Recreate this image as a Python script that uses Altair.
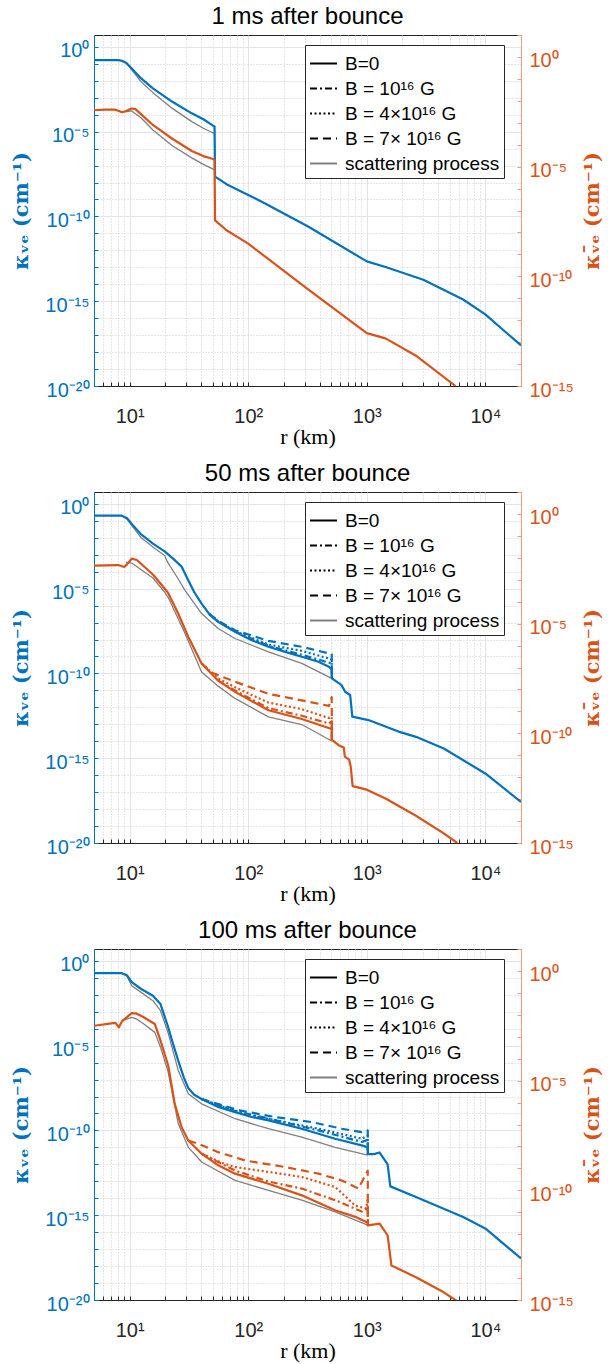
import altair as alt
import pandas as pd

BLUE = "#0072BD"
ORANGE = "#D95319"
GRAY = "#808080"
DARK = "#262626"
RIGHT_DOMAIN_COLOR = "#EE9E78"
MAJOR_GRID = "#E1E4EC"
MINOR_GRID = "#CDCDCD"
SANS = "Liberation Sans"

TITLES = ["1 ms after bounce", "50 ms after bounce", "100 ms after bounce"]
SERIES = ["B=0", "B = 10¹⁶ G", "B = 4×10¹⁶ G", "B = 7× 10¹⁶ G", "scattering process"]
SERIES_DASH = [[1, 0], [7, 3, 2, 3], [2, 2.5], [8, 5], [1, 0]]
SERIES_WIDTH = [2.2, 2.2, 2.2, 2.2, 1.3]
LEGEND_COLOR = ["#000000", "#000000", "#000000", "#000000", GRAY]
LEGEND_WIDTH = [2.0, 2.0, 2.0, 2.0, 1.3]

X_DOMAIN = [5, 20000]
Y_LEFT_DOMAIN = [1e-20, 5]
Y_RIGHT_DOMAIN = [1e-15, 10]

# ---------------- panel 1 : 1 ms (r in km, values as log10 kappa) ----------------
P1_NU_B0_R = [5, 8.0, 8.6, 9.4, 10.4, 12.5, 15.7, 22.9, 33.4, 41.8, 50.5, 52.0, 52.5, 65.6, 100, 140, 320, 1000, 1440, 3000, 6500, 10000, 14000, 20000]
P1_NU_B0_E = [-0.78, -0.78, -0.82, -0.95, -1.27, -1.86, -2.45, -3.24, -3.92, -4.27, -4.65, -4.7, -7.65, -8.1, -8.73, -9.25, -10.59, -12.65, -12.98, -13.73, -14.9, -15.78, -16.67, -17.6]
P1_NU_SC_R = [8.0, 8.6, 9.4, 10.4, 12.5, 15.7, 22.9, 33.4, 41.8, 50.5, 52.0]
P1_NU_SC_E = [-0.78, -0.82, -0.97, -1.35, -2.06, -2.7, -3.63, -4.41, -4.8, -5.08, -5.1]
P1_NUB_B0_R = [5, 6.2, 7.5, 8.0, 8.6, 9.2, 10.4, 11.2, 12.5, 15.7, 22.9, 33.4, 41.8, 50.5, 52.0, 52.5, 65.6, 100, 320, 1000, 1440, 2600, 5600]
P1_NUB_B0_E = [-2.43, -2.4, -2.4, -2.45, -2.52, -2.48, -2.35, -2.38, -2.62, -3.1, -3.73, -4.29, -4.52, -4.65, -4.7, -7.45, -7.9, -8.51, -10.6, -12.59, -12.83, -13.62, -15.0]
P1_NUB_SC_R = [9.2, 10.4, 12.5, 15.7, 22.9, 33.4, 41.8, 50.5, 52.0]
P1_NUB_SC_E = [-2.5, -2.46, -2.78, -3.33, -4.05, -4.6, -4.9, -5.11, -5.13]

# ---------------- panel 2 : 50 ms ----------------
P2_NU_B0_R = [5, 8.5, 9.5, 10.4, 12.5, 15.7, 19.7, 23, 27.4, 31.2, 35, 40.4, 47, 55.8, 77.4, 107, 148, 205, 283, 391, 480, 506, 508, 613, 657, 724, 755, 1033, 1853, 2600, 4460, 10000, 20000]
P2_NU_B0_E = [-0.69, -0.69, -0.85, -1.18, -1.8, -2.35, -2.8, -3.2, -3.7, -4.51, -5.2, -5.88, -6.5, -6.96, -7.55, -8.04, -8.43, -8.73, -9.02, -9.31, -9.6, -9.77, -10.29, -10.69, -11.08, -11.27, -12.55, -12.75, -13.43, -13.74, -14.43, -15.9, -17.58]
P2_NU_SC_R = [8.5, 9.5, 10.4, 12.5, 15.7, 19.7, 21.1, 25, 29.3, 40.4, 55.8, 77.4, 148, 283, 506]
P2_NU_SC_E = [-0.69, -0.9, -1.27, -2.0, -2.55, -3.05, -3.5, -4.3, -5.1, -6.47, -7.35, -7.94, -8.73, -9.41, -10.29]
P2_NU_B1_R = [47, 55.8, 77.4, 148, 283, 506, 508]
P2_NU_B1_E = [-6.5, -6.95, -7.53, -8.37, -8.9, -9.41, -10.29]
P2_NU_B4_R = [47, 55.8, 77.4, 148, 283, 480, 506, 508]
P2_NU_B4_E = [-6.5, -6.93, -7.5, -8.3, -8.67, -9.12, -9.2, -10.29]
P2_NU_B7_R = [47, 55.8, 77.4, 148, 283, 506, 508]
P2_NU_B7_E = [-6.5, -6.9, -7.45, -8.08, -8.43, -8.86, -10.29]
P2_NUB_B0_R = [5, 8.0, 9.0, 9.5, 10.4, 11.5, 15.7, 19.7, 21.1, 25.7, 31.2, 40.4, 55.8, 77.4, 148, 283, 506, 508, 583, 640, 653, 710, 733, 760, 1000, 1440, 2600, 4460, 5800]
P2_NUB_B0_E = [-2.36, -2.33, -2.42, -2.3, -2.04, -2.1, -2.76, -3.4, -3.6, -4.55, -5.6, -6.82, -7.6, -8.11, -8.95, -9.35, -9.8, -10.3, -10.55, -10.65, -11.06, -11.2, -11.54, -12.41, -12.57, -12.97, -13.76, -14.56, -15.0]
P2_NUB_SC_R = [9.3, 10.4, 15.7, 19.7, 21.1, 29.3, 40.4, 55.8, 77.4, 148, 283, 506]
P2_NUB_SC_E = [-2.2, -2.24, -2.92, -3.56, -3.8, -5.45, -7.2, -7.85, -8.41, -9.25, -9.6, -10.35]
P2_NUB_B1_R = [55.8, 77.4, 148, 283, 480, 506, 508]
P2_NUB_B1_E = [-7.6, -8.05, -8.85, -9.2, -9.55, -9.45, -10.3]
P2_NUB_B4_R = [40.4, 55.8, 77.4, 148, 283, 480, 506, 508]
P2_NUB_B4_E = [-6.82, -7.5, -7.9, -8.6, -8.9, -9.3, -9.25, -10.3]
P2_NUB_B7_R = [40.4, 50, 77.4, 148, 283, 480, 506, 508]
P2_NUB_B7_E = [-6.82, -7.25, -7.65, -8.2, -8.5, -8.75, -8.35, -10.3]

# ---------------- panel 3 : 100 ms ----------------
P3_NU_B0_R = [5, 8.5, 9.5, 10.4, 12.5, 15.7, 18.2, 21.1, 23, 25.7, 28.7, 31.2, 35, 40.4, 55.8, 77.4, 107, 148, 283, 541, 907, 1019, 1022, 1150, 1280, 1500, 1580, 2600, 6500, 10000, 20000]
P3_NU_B0_E = [-0.72, -0.72, -0.85, -1.25, -1.66, -2.06, -2.55, -3.9, -4.8, -5.9, -6.9, -7.5, -7.9, -8.15, -8.62, -8.92, -9.21, -9.41, -9.9, -10.49, -10.88, -11.0, -11.4, -11.4, -11.3, -12.0, -13.3, -13.92, -15.1, -15.78, -17.55]
P3_NU_SC_R = [8.5, 9.5, 10.4, 12.5, 15.7, 18.2, 21.1, 25.7, 31.2, 40.4, 77.4, 148, 283, 541, 1019]
P3_NU_SC_E = [-0.72, -0.9, -1.47, -1.86, -2.35, -2.94, -4.25, -6.47, -7.84, -8.43, -9.31, -9.9, -10.39, -11.0, -11.45]
P3_NU_B1_R = [40.4, 77.4, 148, 391, 907, 1019, 1022]
P3_NU_B1_E = [-8.15, -8.85, -9.3, -10.0, -10.68, -10.55, -11.4]
P3_NU_B4_R = [40.4, 60, 107, 205, 391, 800, 907, 1019, 1022]
P3_NU_B4_E = [-8.15, -8.6, -9.12, -9.51, -9.9, -10.4, -10.49, -10.3, -11.4]
P3_NU_B7_R = [40.4, 46, 85, 168, 345, 615, 907, 1019, 1022]
P3_NU_B7_E = [-8.15, -8.27, -8.82, -9.21, -9.51, -9.9, -10.1, -10.0, -11.4]
P3_NUB_B0_R = [5, 7.0, 7.6, 8.1, 8.6, 10.4, 11.5, 13, 16.3, 18.2, 21.1, 24, 27.4, 31.2, 40.4, 55.8, 77.4, 148, 283, 541, 800, 1019, 1022, 1285, 1500, 1615, 2600, 4460, 5700]
P3_NUB_B0_E = [-2.5, -2.39, -2.37, -2.57, -2.3, -1.92, -1.95, -2.1, -2.42, -3.18, -4.3, -6.06, -7.12, -7.73, -8.33, -8.86, -9.24, -9.7, -10.23, -10.91, -11.21, -11.48, -11.6, -11.52, -12.06, -13.43, -13.96, -14.65, -15.03]
P3_NUB_SC_R = [8.8, 10.4, 11.5, 13, 16.3, 18.2, 21.1, 25.7, 31.2, 40.4, 77.4, 148, 283, 541, 1019]
P3_NUB_SC_E = [-2.25, -2.12, -2.2, -2.4, -2.8, -3.48, -4.6, -6.97, -8.03, -8.71, -9.55, -10.0, -10.45, -10.98, -11.59]
P3_NUB_B1_R = [40.4, 77.4, 148, 283, 541, 907, 1019, 1022]
P3_NUB_B1_E = [-8.33, -9.1, -9.6, -9.92, -10.45, -10.97, -10.8, -11.6]
P3_NUB_B4_R = [40.4, 60, 77.4, 148, 283, 541, 800, 990, 1019, 1022]
P3_NUB_B4_E = [-8.33, -8.75, -8.94, -9.16, -9.39, -9.85, -10.7, -10.83, -10.4, -11.6]
P3_NUB_B7_R = [31.2, 37.9, 55.8, 94, 205, 391, 615, 850, 1019, 1022]
P3_NUB_B7_E = [-7.73, -7.88, -8.26, -8.64, -8.94, -9.24, -9.55, -9.92, -9.1, -11.6]

# series index: 0 B=0, 1 1e16 (dash-dot), 2 4e16 (dotted), 3 7e16 (dashed), 4 scattering
PANELS = [
    {"nu": [(P1_NU_SC_R, P1_NU_SC_E, 4), (P1_NU_B0_R, P1_NU_B0_E, 0)],
     "nubar": [(P1_NUB_SC_R, P1_NUB_SC_E, 4), (P1_NUB_B0_R, P1_NUB_B0_E, 0)]},
    {"nu": [(P2_NU_SC_R, P2_NU_SC_E, 4), (P2_NU_B1_R, P2_NU_B1_E, 1), (P2_NU_B4_R, P2_NU_B4_E, 2),
            (P2_NU_B7_R, P2_NU_B7_E, 3), (P2_NU_B0_R, P2_NU_B0_E, 0)],
     "nubar": [(P2_NUB_SC_R, P2_NUB_SC_E, 4), (P2_NUB_B1_R, P2_NUB_B1_E, 1), (P2_NUB_B4_R, P2_NUB_B4_E, 2),
               (P2_NUB_B7_R, P2_NUB_B7_E, 3), (P2_NUB_B0_R, P2_NUB_B0_E, 0)]},
    {"nu": [(P3_NU_SC_R, P3_NU_SC_E, 4), (P3_NU_B1_R, P3_NU_B1_E, 1), (P3_NU_B4_R, P3_NU_B4_E, 2),
            (P3_NU_B7_R, P3_NU_B7_E, 3), (P3_NU_B0_R, P3_NU_B0_E, 0)],
     "nubar": [(P3_NUB_SC_R, P3_NUB_SC_E, 4), (P3_NUB_B1_R, P3_NUB_B1_E, 1), (P3_NUB_B4_R, P3_NUB_B4_E, 2),
               (P3_NUB_B7_R, P3_NUB_B7_E, 3), (P3_NUB_B0_R, P3_NUB_B0_E, 0)]},
]

SUP = str.maketrans("-0123456789", "⁻⁰¹²³⁴⁵⁶⁷⁸⁹")


def decade_label_expr(exps):
    expr = "''"
    for e in exps:
        expr = f"(abs(log(datum.value)/LN10 - ({e})) < 0.01) ? '10{str(e).translate(SUP)}' : ({expr})"
    return expr


X_TICKS = [m * 10 ** k for k in range(0, 5) for m in range(1, 10) if 5 <= m * 10 ** k <= 20000]
Y_LEFT_TICKS = [10.0 ** -k for k in range(20, -1, -1)]
Y_RIGHT_TICKS = [10.0 ** -k for k in range(15, -2, -1)]

X_MAJOR = "abs(log(datum.value)/LN10 - round(log(datum.value)/LN10)) < 0.001"
Y_MAJOR = "round(log(datum.value)/LN10) % 5 == 0"
INSIDE_TICK = {"expr": "-4"}


def cond(test, a, b):
    return {"condition": {"test": test, "value": a}, "value": b}


x_axis = alt.Axis(
    values=X_TICKS, labelExpr=decade_label_expr([1, 2, 3, 4]), labelOverlap=False, labelFlush=False,
    labelFont=SANS, labelFontSize=20, labelColor=DARK, labelPadding=24,
    ticks=True, tickSize=INSIDE_TICK, tickColor=DARK, tickWidth=1,
    domainColor=DARK, grid=True,
    gridColor=cond(X_MAJOR, MAJOR_GRID, MINOR_GRID), gridDash=cond(X_MAJOR, [], [1, 2]),
    title="r (km)", titleFont="Liberation Serif", titleFontSize=22, titleFontWeight="normal",
    titleColor="black", titlePadding=0,
)

left_axis = alt.Axis(
    orient="left", values=Y_LEFT_TICKS, labelExpr=decade_label_expr([0, -5, -10, -15, -20]),
    labelOverlap=False, labelFlush=False, labelFont=SANS, labelFontSize=20, labelColor=BLUE,
    labelPadding=9, labelOffset=4, minExtent=57, maxExtent=57,
    ticks=True, tickSize=INSIDE_TICK, tickColor=BLUE, tickWidth=1,
    domainColor=BLUE, grid=True,
    gridColor=cond(Y_MAJOR, MAJOR_GRID, MINOR_GRID), gridDash=cond(Y_MAJOR, [], [1, 2]),
    title="κᵥₑ (cm⁻¹)", titleFont="DejaVu Serif", titleFontWeight="bold", titleFontSize=21,
    titleColor=BLUE, titlePadding=6,
)

right_axis = alt.Axis(
    orient="right", values=Y_RIGHT_TICKS, labelExpr=decade_label_expr([0, -5, -10, -15]),
    labelOverlap=False, labelFlush=False, labelFont=SANS, labelFontSize=20, labelColor=ORANGE,
    labelPadding=12, labelOffset=4, minExtent=57, maxExtent=57,
    ticks=True, tickSize=INSIDE_TICK, tickColor=RIGHT_DOMAIN_COLOR, tickWidth=1,
    domainColor=RIGHT_DOMAIN_COLOR, grid=False,
    title="κᵥ̄ₑ (cm⁻¹)", titleFont="DejaVu Serif", titleFontWeight="bold", titleFontSize=21,
    titleColor=ORANGE, titlePadding=3, titleAngle=270, titleBaseline="top",
)

X_ENC = alt.X("r:Q", scale=alt.Scale(type="log", domain=X_DOMAIN, nice=False), axis=x_axis)
Y_LEFT = alt.Y("k:Q", scale=alt.Scale(type="log", domain=Y_LEFT_DOMAIN, nice=False), axis=left_axis)
Y_RIGHT = alt.Y("k:Q", scale=alt.Scale(type="log", domain=Y_RIGHT_DOMAIN, nice=False), axis=right_axis)


def line(r, e, sidx, color, y_enc):
    df = pd.DataFrame({"r": r, "k": [10.0 ** v for v in e]})
    kw = dict(color=GRAY if sidx == 4 else color, strokeWidth=SERIES_WIDTH[sidx], clip=True,
              strokeJoin="round")
    if sidx in (1, 2, 3):
        kw["strokeDash"] = SERIES_DASH[sidx]
    return alt.Chart(df).mark_line(**kw).encode(x=X_ENC, y=y_enc)


def legend_layer(r0, e0):
    df = pd.DataFrame({"r": [r0] * len(SERIES), "k": [10.0 ** e0] * len(SERIES), "series": SERIES})
    leg = alt.Legend(
        title=None, orient="none", legendX=211, legendY=10, fillColor="white", strokeColor=DARK,
        padding=4, symbolType="stroke", symbolSize=729, labelFont=SANS, labelFontSize=19,
        labelColor="black", labelOffset=7, rowPadding=0, labelLimit=300,
    )
    return alt.Chart(df).mark_line(clip=True).encode(
        x=X_ENC, y=Y_LEFT,
        color=alt.Color("series:N", scale=alt.Scale(domain=SERIES, range=LEGEND_COLOR), legend=leg),
        strokeDash=alt.StrokeDash("series:N", scale=alt.Scale(domain=SERIES, range=SERIES_DASH), legend=leg),
        strokeWidth=alt.StrokeWidth("series:N", scale=alt.Scale(domain=SERIES, range=LEGEND_WIDTH), legend=leg),
    )


panels = []
for title, spec in zip(TITLES, PANELS):
    left_layers = [line(r, e, s, BLUE, Y_LEFT) for r, e, s in spec["nu"]]
    r0, e0, _ = spec["nu"][-1]
    left_layers.append(legend_layer(r0[0], e0[0]))
    right_layers = [line(r, e, s, ORANGE, Y_RIGHT) for r, e, s in spec["nubar"]]
    p = alt.layer(alt.layer(*left_layers), alt.layer(*right_layers)).resolve_scale(
        y="independent"
    ).properties(
        width=427, height=351,
        title=alt.TitleParams(title, font=SANS, fontSize=24, fontWeight="normal", color="black",
                              frame="group", anchor="middle", offset=0),
    )
    panels.append(p)

chart = alt.vconcat(*panels, spacing=13).resolve_scale(
    color="independent", strokeDash="independent", strokeWidth="independent"
).resolve_legend(
    color="independent", strokeDash="independent", strokeWidth="independent"
).properties(
    padding={"left": 9, "right": 1, "top": 4, "bottom": 0}
).configure_view(stroke=DARK, strokeWidth=1)

chart.save("out.html", embed_options={"renderer": "svg", "actions": False})
